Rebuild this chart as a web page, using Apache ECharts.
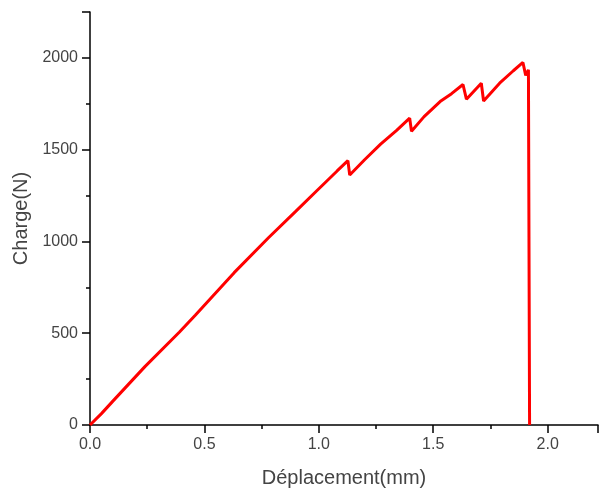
<!doctype html>
<html lang="fr">
<head>
    <meta charset="utf-8">
    <script src="https://cdn.jsdelivr.net/npm/echarts@6/dist/echarts.min.js"></script>
    <title>Charge - Déplacement</title>
    <style>
        html, body { margin: 0; padding: 0; background: #fff; }
        #chart { width: 600px; height: 493px; }
    </style>
</head>
<body>
<div id="chart"></div>

<script type="text/javascript">
    // displacement (mm) and load (N)
    const deplacement = [0, 0.05, 0.10, 0.24, 0.39, 0.46, 0.63, 0.78, 0.90, 0.99, 1.08, 1.127,
        1.135, 1.20, 1.27, 1.34, 1.397, 1.405, 1.46, 1.53, 1.58, 1.630, 1.645, 1.71, 1.72, 1.79, 1.85, 1.892,
        1.904, 1.916, 1.921, 1.921];
    const charge = [0, 62, 130, 318, 505, 598, 830, 1020, 1165, 1275, 1384, 1440,
        1362, 1445, 1530, 1605, 1672, 1600, 1680, 1762, 1805, 1855, 1775, 1862, 1765, 1862, 1930, 1975,
        1905, 1935, 1930, 0];

    const xTicks = [0, 0.5, 1.0, 1.5, 2.0];
    const yTicks = [0, 500, 1000, 1500, 2000];

    const points = deplacement.map((d, i) => [d, charge[i]]);

    let chart = echarts.init(document.getElementById('chart'));

    let labelFont = {
        color: '#444',
        fontFamily: 'Liberation Sans',
        fontSize: 16
    };
    let nameFont = {
        color: '#444',
        fontFamily: 'Liberation Sans',
        fontSize: 20
    };

    let option = {
        animation: false,
        grid: {left: 90, top: 12, bottom: 66, right: 2},
        xAxis: {
            type: 'value',
            min: xTicks[0],
            max: 2.22,
            interval: 0.5,
            name: 'Déplacement(mm)',
            nameLocation: 'middle',
            nameGap: 43,
            nameTextStyle: nameFont,
            axisLine: {lineStyle: {color: '#000', width: 1.5}},
            axisTick: {inside: false, length: 8, lineStyle: {color: '#000', width: 1.5}},
            minorTick: {show: true, splitNumber: 2, length: 4, lineStyle: {color: '#000', width: 1.5}},
            axisLabel: Object.assign({}, labelFont, {
                margin: 12,
                showMaxLabel: false,
                formatter: v => v.toFixed(1)
            }),
            splitLine: {show: false}
        },
        yAxis: {
            type: 'value',
            min: yTicks[0],
            max: 2250,
            interval: 500,
            name: 'Charge(N)',
            nameLocation: 'middle',
            nameGap: 58,
            nameTextStyle: nameFont,
            axisLine: {show: true, lineStyle: {color: '#000', width: 1.5}},
            axisTick: {show: true, inside: false, length: 8, lineStyle: {color: '#000', width: 1.5}},
            minorTick: {show: true, splitNumber: 2, length: 4, lineStyle: {color: '#000', width: 1.5}},
            axisLabel: Object.assign({}, labelFont, {
                margin: 12,
                showMaxLabel: false,
                formatter: v => String(v)
            }),
            splitLine: {show: false}
        },
        series: [
            {
                type: 'line',
                data: points,
                symbol: 'none',
                lineStyle: {color: '#ff0000', width: 3},
                itemStyle: {color: '#ff0000'}
            }
        ]
    };

    chart.setOption(option);
</script>
</body>
</html>
